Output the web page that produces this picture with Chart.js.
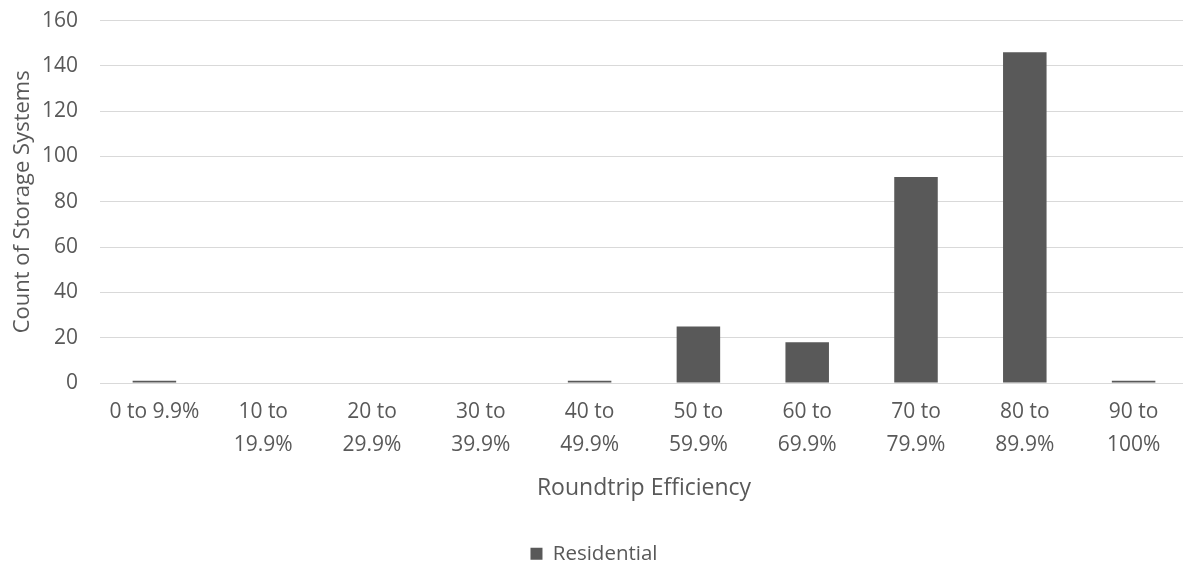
<!DOCTYPE html>
<html>
<head>
<meta charset="utf-8">
<script src="https://cdn.jsdelivr.net/npm/chart.js@4/dist/chart.umd.min.js"></script>
<style>
  html, body { margin: 0; padding: 0; background: #ffffff; overflow: hidden; }
  #wrap { position: relative; width: 1188px; height: 588px; margin-top: -14px; }
</style>
</head>
<body>
<div id="wrap"><canvas id="c"></canvas></div>
<script>
const categories = [
  ["0 to 9.9%"], ["10 to", "19.9%"], ["20 to", "29.9%"], ["30 to", "39.9%"],
  ["40 to", "49.9%"], ["50 to", "59.9%"], ["60 to", "69.9%"], ["70 to", "79.9%"],
  ["80 to", "89.9%"], ["90 to", "100%"]
];
const residential = [1, 0, 0, 0, 1, 25, 18, 91, 146, 1];
const seriesName = "Residential";
const yAxisTitle = "Count of Storage Systems";
const xAxisTitle = "Roundtrip Efficiency";
const yMin = 0, yMax = 160, yStep = 20;

const FONT = "'Open Sans', 'Noto Sans', sans-serif";
const TXT = "#595959";

new Chart(document.getElementById('c'), {
  type: 'bar',
  data: {
    labels: categories,
    datasets: [{
      label: seriesName,
      data: residential,
      backgroundColor: '#595959',
      borderWidth: 0,
      barPercentage: 1.0,
      categoryPercentage: 0.4
    }]
  },
  options: {
    responsive: true,
    maintainAspectRatio: false,
    animation: false,
    layout: { padding: { top: 8, left: 0, right: 0, bottom: 0 } },
    plugins: {
      tooltip: { enabled: false },
      legend: {
        position: 'bottom',
        labels: {
          color: TXT,
          font: { family: FONT, size: 20.5 },
          boxWidth: 12, boxHeight: 12,
          padding: 2
        }
      }
    },
    scales: {
      x: {
        grid: { display: false, drawTicks: false },
        border: { display: false },
        ticks: {
          color: TXT, padding: 13, maxRotation: 0, autoSkip: false,
          font: { family: FONT, size: 21, lineHeight: 1.55 }
        },
        title: {
          display: true, text: xAxisTitle, color: TXT,
          font: { family: FONT, size: 23, lineHeight: 1.2 },
          padding: { top: 0, bottom: 39 }
        },
        afterFit: (s) => { s.height = 158.5; }
      },
      y: {
        min: yMin, max: yMax,
        grid: { color: '#d9d9d9', lineWidth: 1, drawTicks: false },
        border: { display: false },
        ticks: {
          stepSize: yStep, color: TXT, padding: 22,
          font: { family: FONT, size: 21 }
        },
        title: {
          display: true, text: yAxisTitle, color: TXT,
          font: { family: FONT, size: 22, lineHeight: 1.2 },
          padding: { top: 10, bottom: 0 }
        },
        afterFit: (s) => { s.width = 100; }
      }
    }
  }
});
</script>
</body>
</html>
